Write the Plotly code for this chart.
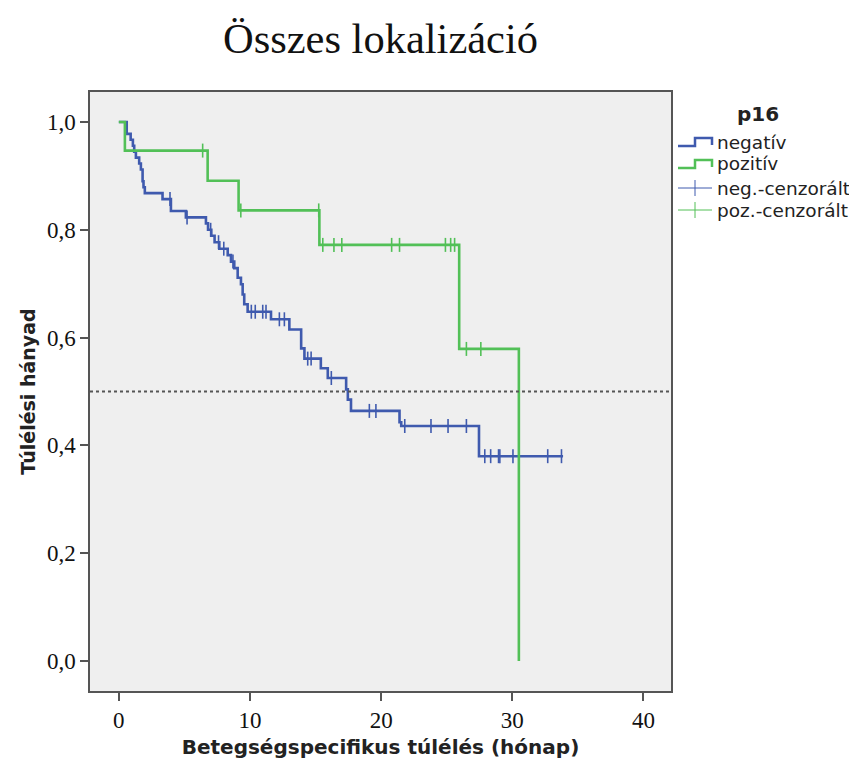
import plotly.graph_objects as go

# ---------------- data ----------------
neg_times = [0.6, 0.9, 1.07, 1.17, 1.3, 1.55, 1.68, 1.81, 1.88, 1.98, 3.33, 3.97, 5.11,
             6.64, 6.8, 7.05, 7.3, 7.66, 8.3, 8.55, 8.8, 9.06, 9.31, 9.44, 9.56, 9.82,
             11.6, 13.0, 13.9, 14.15, 15.4, 15.93, 17.33, 17.46, 17.7, 21.4, 21.53, 27.46]
neg_surv = [0.978, 0.967, 0.956, 0.945, 0.934, 0.923, 0.912, 0.890, 0.879, 0.868, 0.857, 0.835, 0.823,
            0.812, 0.800, 0.789, 0.777, 0.765, 0.753, 0.741, 0.729, 0.711, 0.699, 0.680, 0.662, 0.648,
            0.634, 0.615, 0.580, 0.561, 0.543, 0.525, 0.504, 0.485, 0.464, 0.443, 0.436, 0.380]
neg_end = 33.87
neg_censored = [3.9, 5.2, 7.0, 7.6, 8.0, 8.7, 10.1, 10.4, 10.97, 11.22, 12.24, 12.62, 14.4, 14.66,
                16.2, 19.1, 19.6, 21.8, 23.8, 25.1, 26.5, 27.9, 28.35, 28.95, 29.05, 30.05, 32.7, 33.75]

pos_times = [0.46, 6.77, 9.13, 15.29, 25.95, 30.5]
pos_surv = [0.947, 0.891, 0.836, 0.772, 0.579, 0.0]
pos_censored = [6.39, 9.3, 15.24, 15.55, 16.4, 17.0, 20.8, 21.4, 24.9, 25.3, 25.6, 26.5, 27.6]

x_ticks = [0, 10, 20, 30, 40]
y_ticks = [0.0, 0.2, 0.4, 0.6, 0.8, 1.0]
y_tick_labels = ["0,0", "0,2", "0,4", "0,6", "0,8", "1,0"]

title_text = "Összes lokalizáció"
x_title = "Betegségspecifikus túlélés (hónap)"
y_title = "Túlélési hányad"
legend_title = "p16"
legend_labels = ["negatív", "pozitív", "neg.-cenzorált", "poz.-cenzorált"]

BLUE = "#3f5aae"
GREEN = "#52c057"


def surv_at(t, times, surv):
    s = 1.0
    for ti, si in zip(times, surv):
        if ti <= t:
            s = si
    return s


fig = go.Figure()

fig.add_trace(go.Scatter(x=[0] + neg_times + [neg_end], y=[1.0] + neg_surv + [neg_surv[-1]],
                         mode="lines", line=dict(color=BLUE, width=2.6, shape="hv"),
                         showlegend=False, hoverinfo="skip"))
fig.add_trace(go.Scatter(x=[0] + pos_times, y=[1.0] + pos_surv,
                         mode="lines", line=dict(color=GREEN, width=2.6, shape="hv"),
                         showlegend=False, hoverinfo="skip"))
fig.add_trace(go.Scatter(x=neg_censored, y=[surv_at(t, neg_times, neg_surv) for t in neg_censored],
                         mode="markers",
                         marker=dict(symbol="line-ns", size=10, line=dict(color=BLUE, width=1.6)),
                         showlegend=False, hoverinfo="skip"))
fig.add_trace(go.Scatter(x=pos_censored, y=[surv_at(t, pos_times, pos_surv) for t in pos_censored],
                         mode="markers",
                         marker=dict(symbol="line-ns", size=10, line=dict(color=GREEN, width=1.6)),
                         showlegend=False, hoverinfo="skip"))

fig.add_shape(type="line", xref="paper", yref="y", x0=0, x1=1, y0=0.5, y1=0.5,
              line=dict(color="#555555", width=2, dash="dot"))

# ---------------- layout geometry ----------------
OFF = 7              # page offset of the figure in the screenshot
L, T, W, H = 82, 84, 581, 599


def px(xp):
    return (xp - OFF - L) / W


def py(yp):
    return (T + H - (yp - OFF)) / H


rows = [141, 163, 187, 209]
colors = [BLUE, GREEN, BLUE, GREEN]
for i, (r, c) in enumerate(zip(rows, colors)):
    if i < 2:
        path = (f"M {px(677)},{py(r + 4)} L {px(694)},{py(r + 4)} L {px(694)},{py(r - 4)} "
                f"L {px(711)},{py(r - 4)} L {px(711)},{py(r + 3)}")
        fig.add_shape(type="path", xref="paper", yref="paper", path=path,
                      line=dict(color=c, width=2.5))
    else:
        fig.add_shape(type="line", xref="paper", yref="paper", x0=px(677), x1=px(711),
                      y0=py(r), y1=py(r), line=dict(color=c, width=1))
        fig.add_shape(type="line", xref="paper", yref="paper", x0=px(694), x1=px(694),
                      y0=py(r - 8), y1=py(r + 8), line=dict(color=c, width=1))
    fig.add_annotation(xref="paper", yref="paper", x=px(714), y=py(r), text=legend_labels[i],
                       showarrow=False, xanchor="left", yanchor="middle",
                       font=dict(family="DejaVu Sans", size=18.5, color="#222222"))

fig.add_annotation(xref="paper", yref="paper", x=px(757), y=py(113), text=f"<b>{legend_title}</b>",
                   showarrow=False, xanchor="center", yanchor="middle",
                   font=dict(family="DejaVu Sans", size=20, color="#222222"))

fig.update_layout(
    width=857, height=762,
    margin=dict(l=L, r=857 - L - W, t=T, b=762 - T - H),
    paper_bgcolor="white",
    plot_bgcolor="#efefef",
    title=dict(text=title_text, x=(L + W / 2) / 857, xanchor="center", y=1 - (37 - OFF) / 762,
               yanchor="middle",
               font=dict(family="Liberation Serif", size=42.5, color="#111111")),
    showlegend=False,
)
fig.update_xaxes(range=[-2.2, 42.1], tickvals=x_ticks, ticks="outside", ticklen=8, tickwidth=1.5,
                 tickcolor="#555555", showgrid=False, zeroline=False,
                 showline=True, linecolor="#555555", linewidth=1.5, mirror=True,
                 tickfont=dict(family="Liberation Serif", size=23, color="#111111"),
                 title=dict(text=f"<b>{x_title}</b>", standoff=8,
                            font=dict(family="DejaVu Sans", size=20, color="#222222")))
fig.update_yaxes(range=[-0.0557, 1.0557], tickvals=y_ticks, ticktext=y_tick_labels, ticks="outside",
                 ticklen=8, tickwidth=1.5, tickcolor="#555555", showgrid=False, zeroline=False,
                 showline=True, linecolor="#555555", linewidth=1.5, mirror=True,
                 tickfont=dict(family="Liberation Serif", size=23, color="#111111"),
                 title=dict(text=f"<b>{y_title}</b>", standoff=6,
                            font=dict(family="DejaVu Sans", size=19, color="#222222")))

fig.write_html("out.html")
